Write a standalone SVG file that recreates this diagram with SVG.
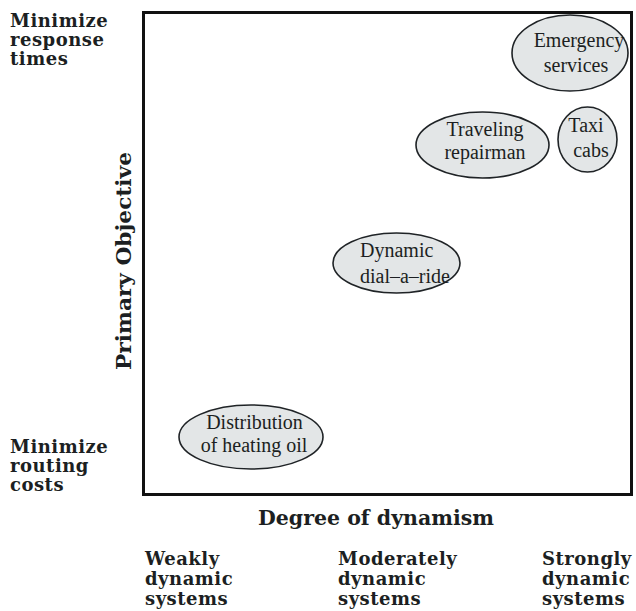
<svg xmlns="http://www.w3.org/2000/svg" width="636" height="611" viewBox="0 0 636 611">
<style>
.lbl{font-family:"DejaVu Serif","Liberation Serif",serif;font-weight:bold;font-size:18px;letter-spacing:0.5px;fill:#1c1f22}
.ax{font-family:"DejaVu Serif","Liberation Serif",serif;font-weight:bold;font-size:20px;fill:#1c1f22}
.nt{font-family:"Liberation Serif","Times New Roman",serif;font-size:20px;fill:#1c1f22}
.node ellipse{fill:#e3e6e7;stroke:#1f2326;stroke-width:1.6}
</style>
<rect x="0" y="0" width="636" height="611" fill="#ffffff"/>
<rect id="frame" x="143.5" y="12.5" width="488" height="482" fill="none" stroke="#111" stroke-width="3"/>
<g id="y-labels">
<text class="lbl" x="10" y="27">Minimize</text>
<text class="lbl" x="10" y="46">response</text>
<text class="lbl" x="10" y="65">times</text>
<text class="lbl" x="10" y="453">Minimize</text>
<text class="lbl" x="10" y="472">routing</text>
<text class="lbl" x="10" y="491">costs</text>
<text class="ax" transform="translate(131,261) rotate(-90)" text-anchor="middle" textLength="218" lengthAdjust="spacingAndGlyphs">Primary Objective</text>
</g>
<g id="x-labels">
<text class="ax" x="376" y="525" text-anchor="middle" textLength="236" lengthAdjust="spacingAndGlyphs">Degree of dynamism</text>
<text class="lbl" x="145" y="565">Weakly</text>
<text class="lbl" x="145" y="585">dynamic</text>
<text class="lbl" x="145" y="605">systems</text>
<text class="lbl" x="338" y="565">Moderately</text>
<text class="lbl" x="338" y="585">dynamic</text>
<text class="lbl" x="338" y="605">systems</text>
<text class="lbl" x="542" y="565">Strongly</text>
<text class="lbl" x="542" y="585">dynamic</text>
<text class="lbl" x="542" y="605">systems</text>
</g>
<g id="connectors"/>
<g id="emergency-services" class="node">
<ellipse cx="570" cy="53" rx="58" ry="38"/>
<text class="nt" x="579" y="47" text-anchor="middle">Emergency</text>
<text class="nt" x="576" y="72" text-anchor="middle">services</text>
</g>
<g id="traveling-repairman" class="node">
<ellipse cx="482.5" cy="145" rx="66.5" ry="33"/>
<text class="nt" x="485" y="136" text-anchor="middle">Traveling</text>
<text class="nt" x="485" y="159" text-anchor="middle">repairman</text>
</g>
<g id="taxi-cabs" class="node">
<ellipse cx="587.5" cy="139.5" rx="29.5" ry="32.5"/>
<text class="nt" x="586" y="132" text-anchor="middle">Taxi</text>
<text class="nt" x="591" y="157" text-anchor="middle">cabs</text>
</g>
<g id="dynamic-dial-a-ride" class="node">
<ellipse cx="396.5" cy="263" rx="63.5" ry="30"/>
<text class="nt" x="360" y="257">Dynamic</text>
<text class="nt" x="360" y="283">dial–a–ride</text>
</g>
<g id="distribution-of-heating-oil" class="node">
<ellipse cx="251" cy="437" rx="72" ry="32"/>
<text class="nt" x="254.5" y="429" text-anchor="middle">Distribution</text>
<text class="nt" x="254" y="452" text-anchor="middle">of heating oil</text>
</g>
</svg>
